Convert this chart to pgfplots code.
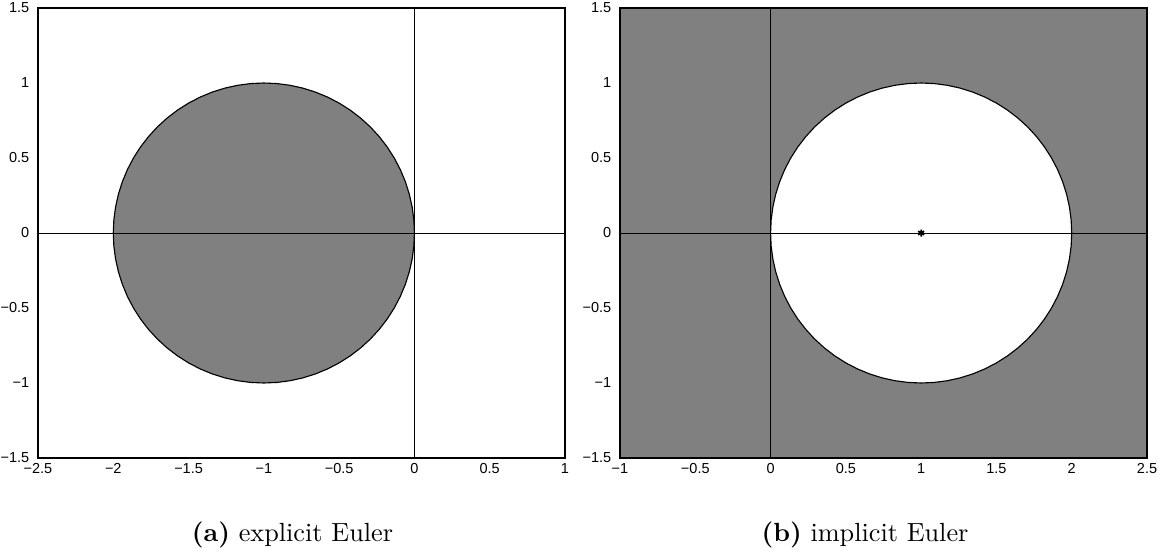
\documentclass[border=0pt]{standalone}
\usepackage{fontspec}
\usepackage{pgfplots}
\usepackage{pgfplotstable}
\pgfplotsset{compat=1.18}
\newfontfamily\tickfont{Liberation Sans}
\pgfplotstableread{
c s
1 0
0.99619 0.08716
0.98481 0.17365
0.96593 0.25882
0.93969 0.34202
0.90631 0.42262
0.86603 0.5
0.81915 0.57358
0.76604 0.64279
0.70711 0.70711
0.64279 0.76604
0.57358 0.81915
0.5 0.86603
0.42262 0.90631
0.34202 0.93969
0.25882 0.96593
0.17365 0.98481
0.08716 0.99619
0 1
-0.08716 0.99619
-0.17365 0.98481
-0.25882 0.96593
-0.34202 0.93969
-0.42262 0.90631
-0.5 0.86603
-0.57358 0.81915
-0.64279 0.76604
-0.70711 0.70711
-0.76604 0.64279
-0.81915 0.57358
-0.86603 0.5
-0.90631 0.42262
-0.93969 0.34202
-0.96593 0.25882
-0.98481 0.17365
-0.99619 0.08716
-1 0
-0.99619 -0.08716
-0.98481 -0.17365
-0.96593 -0.25882
-0.93969 -0.34202
-0.90631 -0.42262
-0.86603 -0.5
-0.81915 -0.57358
-0.76604 -0.64279
-0.70711 -0.70711
-0.64279 -0.76604
-0.57358 -0.81915
-0.5 -0.86603
-0.42262 -0.90631
-0.34202 -0.93969
-0.25882 -0.96593
-0.17365 -0.98481
-0.08716 -0.99619
0 -1
0.08716 -0.99619
0.17365 -0.98481
0.25882 -0.96593
0.34202 -0.93969
0.42262 -0.90631
0.5 -0.86603
0.57358 -0.81915
0.64279 -0.76604
0.70711 -0.70711
0.76604 -0.64279
0.81915 -0.57358
0.86603 -0.5
0.90631 -0.42262
0.93969 -0.34202
0.96593 -0.25882
0.98481 -0.17365
0.99619 -0.08716
1 0
}\unitcircle
\pgfplotsset{
  mystyle/.style={
    scale only axis, width=210.8pt, height=180pt,
    anchor=south west,
    axis line style={black, line width=0.45pt},
    tick style={draw=none},
    ymin=-1.5, ymax=1.5,
    ytick={-1.5,-1,-0.5,0,0.5,1,1.5},
    yticklabels={−1.5,−1,−0.5,0,0.5,1,1.5},
    ticklabel style={font=\tickfont\fontsize{5.8}{6.5}\selectfont},
    xticklabel style={yshift=1.5pt},
    yticklabel style={xshift=0pt},
    clip=true,
  }
}
\begin{document}
\begin{tikzpicture}
\path[use as bounding box] (0,0) rectangle (464.8pt,222.4pt);
\begin{axis}[mystyle, at={(15.2pt,39.2pt)},
  xmin=-2.5, xmax=1,
  xtick={-2.5,-2,-1.5,-1,-0.5,0,0.5,1},
  xticklabels={−2.5,−2,−1.5,−1,−0.5,0,0.5,1}]
\addplot[fill=gray, draw=black, line width=0.45pt] table[x expr=\thisrow{c}-1, y=s] {\unitcircle};
\addplot[black, line width=0.4pt] coordinates {(-2.5,0) (1,0)};
\addplot[black, line width=0.4pt] coordinates {(0,-1.5) (0,1.5)};
\end{axis}
\begin{axis}[mystyle, at={(248pt,39.2pt)},
  xmin=-1, xmax=2.5,
  axis background/.style={fill=gray},
  xtick={-1,-0.5,0,0.5,1,1.5,2,2.5},
  xticklabels={−1,−0.5,0,0.5,1,1.5,2,2.5}]
\addplot[fill=white, draw=black, line width=0.45pt] table[x expr=\thisrow{c}+1, y=s] {\unitcircle};
\addplot[black, line width=0.4pt] coordinates {(-1,0) (2.5,0)};
\addplot[black, line width=0.4pt] coordinates {(0,-1.5) (0,1.5)};
\addplot[black, only marks, mark=asterisk, mark size=1.4pt, line width=0.7pt] coordinates {(1,0)};
\end{axis}
\node[font=\fontsize{10.5}{12}\selectfont, anchor=base] at (117pt,6pt) {\textbf{(a)} explicit Euler};
\node[font=\fontsize{10.5}{12}\selectfont, anchor=base] at (346pt,6pt) {\textbf{(b)} implicit Euler};
\end{tikzpicture}
\end{document}
